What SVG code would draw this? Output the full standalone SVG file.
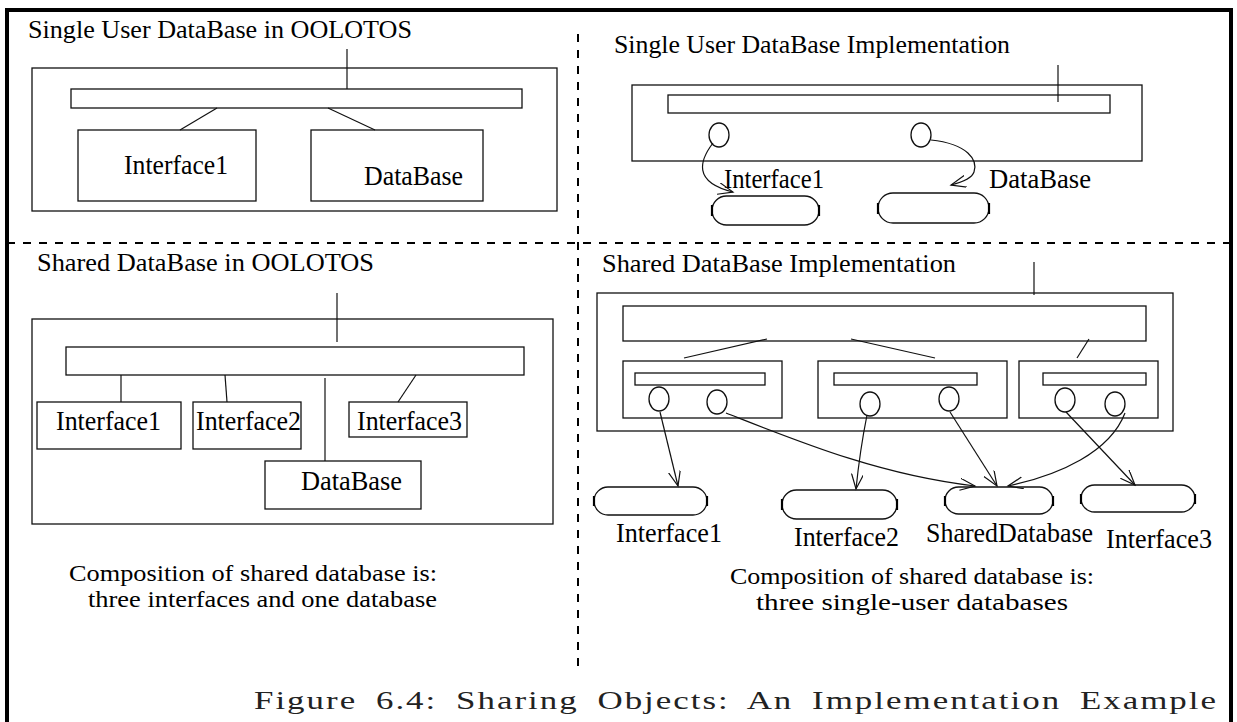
<svg xmlns="http://www.w3.org/2000/svg" width="1237" height="722" viewBox="0 0 1237 722">
<style>
  .b{fill:none;stroke:#111;stroke-width:1.3}
  .ln{fill:none;stroke:#111;stroke-width:1.2}
  .ar{fill:none;stroke:#111;stroke-width:1.2;marker-end:url(#ah)}
  .dash{fill:none;stroke:#000;stroke-width:2;stroke-dasharray:8 8}
  .t{font-family:"Liberation Serif","Times New Roman",serif;font-size:26px;fill:#000}
  .l{font-family:"Liberation Serif","Times New Roman",serif;font-size:27px;fill:#000}
  .n{font-family:"Liberation Serif","Times New Roman",serif;font-size:23px;fill:#000}
  .cap{font-family:"Liberation Serif","Times New Roman",serif;font-size:26px;fill:#222;letter-spacing:1.5px;word-spacing:6px}
  .tick{stroke:#000;stroke-width:2.2}
</style>
<defs>
  <marker id="ah" markerUnits="userSpaceOnUse" markerWidth="18" markerHeight="14" refX="15" refY="6" orient="auto">
    <path d="M0,0 L15,6 L0,12" fill="none" stroke="#111" stroke-width="1.2"/>
  </marker>
</defs>
<rect width="1237" height="722" fill="#fff"/>
<g id="frame">
  <path d="M7,730 L7,10 L1231,10 L1231,730" fill="none" stroke="#000" stroke-width="4"/>
  <line class="dash" x1="578" y1="34" x2="578" y2="670"/>
  <line class="dash" x1="7" y1="243" x2="1231" y2="243"/>
</g>

<!-- Top-left: Single User DataBase in OOLOTOS -->
<g id="tl-title"><text class="t" x="28" y="38" textLength="384" lengthAdjust="spacingAndGlyphs">Single User DataBase in OOLOTOS</text></g>
<g id="tl-outer"><rect class="b" x="32" y="68" width="525" height="143"/></g>
<g id="tl-bar"><rect class="b" x="71" y="89" width="451" height="19"/></g>
<g id="tl-interface1"><rect class="b" x="78" y="130" width="178" height="71"/><text class="l" x="124" y="174" textLength="104" lengthAdjust="spacingAndGlyphs">Interface1</text></g>
<g id="tl-database"><rect class="b" x="311" y="130" width="172" height="71"/><text class="l" x="364" y="185" textLength="99" lengthAdjust="spacingAndGlyphs">DataBase</text></g>

<!-- Top-right: Single User DataBase Implementation -->
<g id="tr-title"><text class="t" x="614" y="53" textLength="396" lengthAdjust="spacingAndGlyphs">Single User DataBase Implementation</text></g>
<g id="tr-outer"><rect class="b" x="632" y="85" width="510" height="76"/></g>
<g id="tr-bar"><rect class="b" x="668" y="95" width="442" height="18"/></g>
<g id="tr-port1"><ellipse class="b" cx="719" cy="135" rx="10" ry="12"/></g>
<g id="tr-port2"><ellipse class="b" cx="921" cy="135" rx="10" ry="12"/></g>
<g id="tr-interface1"><rect class="b" x="712" y="196" width="107" height="29" rx="14.5"/><line class="tick" x1="712" y1="205" x2="712" y2="216"/><line class="tick" x1="819" y1="205" x2="819" y2="216"/><text class="l" x="724" y="188" textLength="100" lengthAdjust="spacingAndGlyphs">Interface1</text></g>
<g id="tr-database"><rect class="b" x="878" y="193" width="111" height="30" rx="15"/><line class="tick" x1="878" y1="203" x2="878" y2="214"/><line class="tick" x1="989" y1="203" x2="989" y2="214"/><text class="l" x="989" y="188" textLength="102" lengthAdjust="spacingAndGlyphs">DataBase</text></g>

<!-- Bottom-left: Shared DataBase in OOLOTOS -->
<g id="bl-title"><text class="t" x="37" y="271" textLength="337" lengthAdjust="spacingAndGlyphs">Shared DataBase in OOLOTOS</text></g>
<g id="bl-outer"><rect class="b" x="32" y="319" width="521" height="205"/></g>
<g id="bl-bar"><rect class="b" x="66" y="347" width="458" height="28"/></g>
<g id="bl-interface1"><rect class="b" x="37" y="402" width="144" height="47"/><text class="l" x="56" y="430" textLength="105" lengthAdjust="spacingAndGlyphs">Interface1</text></g>
<g id="bl-interface2"><rect class="b" x="193" y="402" width="108" height="47"/><text class="l" x="196" y="430" textLength="105" lengthAdjust="spacingAndGlyphs">Interface2</text></g>
<g id="bl-interface3"><rect class="b" x="349" y="402" width="118" height="35"/><text class="l" x="357" y="430" textLength="105" lengthAdjust="spacingAndGlyphs">Interface3</text></g>
<g id="bl-database"><rect class="b" x="265" y="461" width="156" height="48"/><text class="l" x="301" y="490" textLength="101" lengthAdjust="spacingAndGlyphs">DataBase</text></g>
<g id="bl-note"><text class="n" x="69" y="581" textLength="368" lengthAdjust="spacingAndGlyphs">Composition of shared database is:</text><text class="n" x="88" y="607" textLength="349" lengthAdjust="spacingAndGlyphs">three interfaces and one database</text></g>

<!-- Bottom-right: Shared DataBase Implementation -->
<g id="br-title"><text class="t" x="602" y="272" textLength="354" lengthAdjust="spacingAndGlyphs">Shared DataBase Implementation</text></g>
<g id="br-outer"><rect class="b" x="597" y="293" width="576" height="138"/></g>
<g id="br-bar"><rect class="b" x="623" y="306" width="523" height="35"/></g>
<g id="br-sub1"><rect class="b" x="623" y="361" width="159" height="57"/><rect class="b" x="635" y="373" width="130" height="12"/><ellipse class="b" cx="659" cy="399" rx="10" ry="12"/><ellipse class="b" cx="717" cy="402" rx="10" ry="12"/></g>
<g id="br-sub2"><rect class="b" x="818" y="361" width="189" height="57"/><rect class="b" x="834" y="373" width="143" height="12"/><ellipse class="b" cx="870" cy="404" rx="10" ry="12"/><ellipse class="b" cx="949" cy="399" rx="10" ry="12"/></g>
<g id="br-sub3"><rect class="b" x="1019" y="361" width="139" height="57"/><rect class="b" x="1043" y="373" width="103" height="12"/><ellipse class="b" cx="1065" cy="400" rx="10" ry="12"/><ellipse class="b" cx="1115" cy="404" rx="10" ry="12"/></g>
<g id="br-interface1"><rect class="b" x="594" y="487" width="113" height="28" rx="14"/><line class="tick" x1="594" y1="496" x2="594" y2="506"/><line class="tick" x1="707" y1="496" x2="707" y2="506"/><text class="l" x="616" y="542" textLength="106" lengthAdjust="spacingAndGlyphs">Interface1</text></g>
<g id="br-interface2"><rect class="b" x="782" y="490" width="115" height="29" rx="14.5"/><line class="tick" x1="782" y1="499" x2="782" y2="510"/><line class="tick" x1="897" y1="499" x2="897" y2="510"/><text class="l" x="794" y="546" textLength="105" lengthAdjust="spacingAndGlyphs">Interface2</text></g>
<g id="br-shared"><rect class="b" x="945" y="487" width="108" height="27" rx="13.5"/><line class="tick" x1="945" y1="496" x2="945" y2="506"/><line class="tick" x1="1053" y1="496" x2="1053" y2="506"/><text class="l" x="926" y="542" textLength="167" lengthAdjust="spacingAndGlyphs">SharedDatabase</text></g>
<g id="br-interface3"><rect class="b" x="1081" y="485" width="114" height="27" rx="13.5"/><line class="tick" x1="1081" y1="494" x2="1081" y2="504"/><line class="tick" x1="1195" y1="494" x2="1195" y2="504"/><text class="l" x="1106" y="548" textLength="106" lengthAdjust="spacingAndGlyphs">Interface3</text></g>
<g id="br-note"><text class="n" x="730" y="584" textLength="364" lengthAdjust="spacingAndGlyphs">Composition of shared database is:</text><text class="n" x="756" y="610" textLength="312" lengthAdjust="spacingAndGlyphs">three single-user databases</text></g>

<g id="connectors">
  <line class="ln" x1="347" y1="49" x2="347" y2="89"/>
  <line class="ln" x1="217" y1="108" x2="180" y2="130"/>
  <line class="ln" x1="328" y1="108" x2="375" y2="130"/>
  <line class="ln" x1="1058" y1="65" x2="1058" y2="102"/>
  <path class="ar" d="M713,143 C700,160 692,182 733,192"/>
  <path class="ar" d="M931,140 C968,144 978,160 974,172 C972,178 963,182 951,185"/>
  <line class="ln" x1="337" y1="293" x2="337" y2="342"/>
  <line class="ln" x1="121" y1="375" x2="121" y2="402"/>
  <line class="ln" x1="225" y1="375" x2="227" y2="402"/>
  <line class="ln" x1="325" y1="378" x2="325" y2="461"/>
  <line class="ln" x1="416" y1="375" x2="398" y2="402"/>
  <line class="ln" x1="1034" y1="262" x2="1034" y2="295"/>
  <line class="ln" x1="767" y1="339" x2="684" y2="358"/>
  <line class="ln" x1="851" y1="339" x2="935" y2="358"/>
  <line class="ln" x1="1089" y1="339" x2="1077" y2="358"/>
  <path class="ar" d="M660,412 L678,486"/>
  <path class="ar" d="M726,413 C800,442 880,475 975,486"/>
  <path class="ar" d="M867,415 Q860,450 856,489"/>
  <path class="ar" d="M950,412 L997,486"/>
  <path class="ar" d="M1125,413 C1110,452 1060,475 1008,486"/>
  <path class="ar" d="M1066,412 L1135,485"/>
</g>

<g id="caption"><text class="cap" x="254" y="709" textLength="964" lengthAdjust="spacingAndGlyphs">Figure 6.4: Sharing Objects: An Implementation Example</text></g>
</svg>
